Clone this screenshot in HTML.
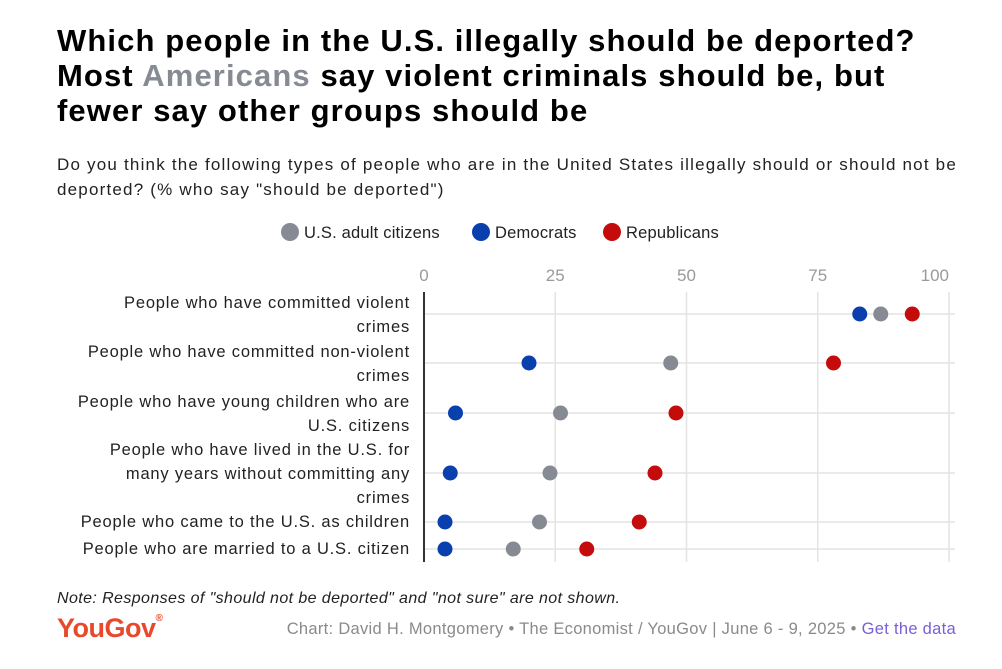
<!DOCTYPE html>
<html><head><meta charset="utf-8"><style>
body{margin:0;width:1002px;height:669px;background:#fff;font-family:"Liberation Sans",sans-serif;overflow:hidden;position:relative}
.t{position:absolute;left:57px;top:23px;font-size:31px;font-weight:bold;line-height:35px;color:#000;letter-spacing:1.1px;white-space:nowrap}
.s{position:absolute;left:57px;top:152px;font-size:17px;line-height:25px;color:#222;letter-spacing:1.2px;white-space:nowrap}
.lg{position:absolute;top:223px;font-size:16.5px;color:#222;letter-spacing:0.2px}
.dot{display:inline-block;width:18px;height:18px;border-radius:50%;vertical-align:-3px;margin-right:5px}
.lab{position:absolute;right:592px;text-align:right;font-size:16.5px;line-height:24px;color:#222;letter-spacing:0.8px;white-space:nowrap}
.note{position:absolute;left:57px;top:590px;font-size:16px;font-style:italic;color:#222;letter-spacing:0.4px}
.yg{position:absolute;left:57px;top:613px;font-size:27px;font-weight:bold;color:#e8492c;letter-spacing:-0.5px}
.cr{position:absolute;right:46px;top:620px;font-size:16.5px;color:#8a8a8a;letter-spacing:0.3px}
</style></head><body>
<div class="t">Which people in the U.S. illegally should be deported?<br>Most <span style="color:#868a93">Americans</span> say violent criminals should be, but<br>fewer say other groups should be</div>
<div class="s">Do you think the following types of people who are in the United States illegally should or should not be<br>deported? (% who say "should be deported")</div>
<div class="lg" style="left:281px"><span class="dot" style="background:#868a93"></span>U.S. adult citizens</div>
<div class="lg" style="left:472px"><span class="dot" style="background:#0a3fae"></span>Democrats</div>
<div class="lg" style="left:603px"><span class="dot" style="background:#c40c0c"></span>Republicans</div>
<div id="labs"></div>
<svg id="ch" width="1002" height="669" style="position:absolute;left:0;top:0"></svg>
<div class="note">Note: Responses of "should not be deported" and "not sure" are not shown.</div>
<div class="yg">YouGov<span style="font-size:10px;vertical-align:top">®</span></div>
<div class="cr">Chart: David H. Montgomery • The Economist / YouGov | June 6 - 9, 2025 • <span style="color:#7b5fd6">Get the data</span></div>
<script>
const categories=["People who have committed violent<br>crimes","People who have committed non-violent<br>crimes","People who have young children who are<br>U.S. citizens","People who have lived in the U.S. for<br>many years without committing any<br>crimes","People who came to the U.S. as children","People who are married to a U.S. citizen"];
const usValues=[87,47,26,24,22,17];
const demValues=[83,20,6,5,4,4];
const repValues=[93,78,48,44,41,31];
const ticks=[0,25,50,75,100];
const rowY=[314,363,413,473,522,549];
const labTop=[291,340,390,438,510,537];
const x=v=>424+v*5.25;
const NS="http://www.w3.org/2000/svg",svg=document.getElementById('ch');
function el(t,a){const e=document.createElementNS(NS,t);for(const k in a)e.setAttribute(k,a[k]);svg.appendChild(e);return e;}
ticks.forEach(t=>{
 const g=el('line',{x1:x(t),x2:x(t),y1:292,y2:562,stroke:'#e4e4e4','stroke-width':1.5});
 
 
 const tx=el('text',{x:x(t),y:281,'font-size':17,fill:'#9a9a9a','text-anchor':t==100?'end':'middle','font-family':'Liberation Sans'});
 tx.textContent=t;
 
 
});
rowY.forEach((y,i)=>{
 const l=el('line',{x1:424,x2:955,y1:y,y2:y,stroke:'#e4e4e4','stroke-width':1.5});
 
 
});
const ax=el('line',{x1:424,x2:424,y1:292,y2:562,stroke:'#333','stroke-width':2});


[[demValues,'#0a3fae','dem'],[usValues,'#868a93','us'],[repValues,'#c40c0c','rep']].forEach(([vals,c,n])=>{
 vals.forEach((v,i)=>{
  const d=el('circle',{cx:x(v),cy:rowY[i],r:7.5,fill:c});
  
  
 });
});
const labs=document.getElementById('labs');
categories.forEach((c,i)=>{
 const d=document.createElement('div');d.className='lab';d.style.top=labTop[i]+'px';d.innerHTML=c;
 
 
 labs.appendChild(d);
});
</script>
</body></html>
